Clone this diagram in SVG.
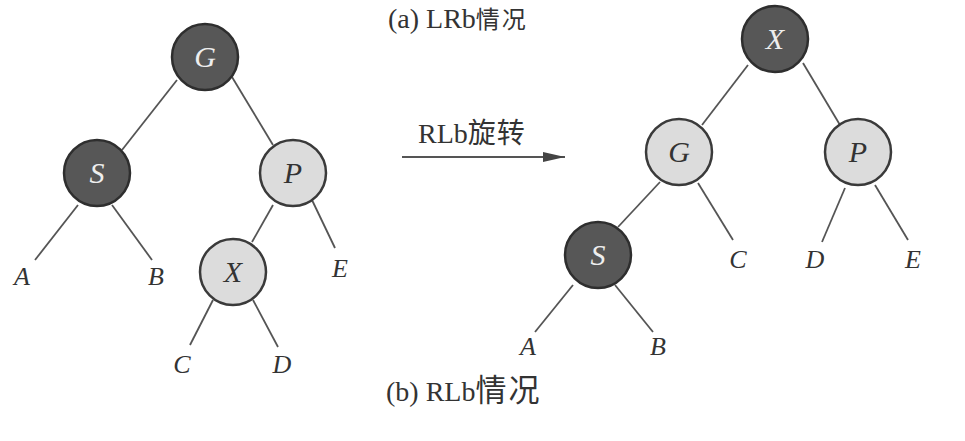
<svg xmlns="http://www.w3.org/2000/svg" width="965" height="441" viewBox="0 0 965 441">
<style>
.dark{fill:#575757;stroke:#2e2e2e;stroke-width:2.5}
.light{fill:#dcdcdc;stroke:#3a3a3a;stroke-width:2.5}
.nl{font-family:"Liberation Serif",serif;font-style:italic;font-size:30px;text-anchor:middle}
.nd{fill:#eeeeee}
.nli{fill:#333}
.leaf{font-family:"Liberation Serif",serif;font-style:italic;font-size:26px;text-anchor:middle;fill:#333}
.cap{font-family:"Liberation Serif","Noto Sans CJK SC",serif;font-size:28px;fill:#333}
.cjk{font-family:"Noto Sans CJK SC",sans-serif}
#edges line{stroke:#555;stroke-width:1.8}
</style>
<defs>
<marker id="ah" markerWidth="22" markerHeight="10" refX="22" refY="5" orient="auto" markerUnits="userSpaceOnUse">
<path d="M0,0 L22,5 L0,10 Z" fill="#444"/>
</marker>
</defs>
<rect width="965" height="441" fill="#ffffff"/>
<text class="cap" x="388" y="28" font-size="24">(a) LRb<tspan class="cjk" font-size="24" letter-spacing="2">情况</tspan></text>
<g id="edges">
<line x1="177" y1="80" x2="122" y2="150"/>
<line x1="232" y1="77" x2="273" y2="145"/>
<line x1="78" y1="205" x2="35" y2="260"/>
<line x1="112" y1="205" x2="152" y2="260"/>
<line x1="273" y1="205" x2="252" y2="242"/>
<line x1="312" y1="200" x2="335" y2="248"/>
<line x1="213" y1="300" x2="190" y2="345"/>
<line x1="253" y1="300" x2="278" y2="347"/>
<line x1="748" y1="65" x2="702" y2="125"/>
<line x1="803" y1="63" x2="840" y2="125"/>
<line x1="660" y1="182" x2="618" y2="227"/>
<line x1="698" y1="183" x2="733" y2="240"/>
<line x1="845" y1="188" x2="822" y2="242"/>
<line x1="875" y1="185" x2="908" y2="240"/>
<line x1="573" y1="285" x2="535" y2="332"/>
<line x1="615" y1="285" x2="653" y2="332"/>
<line x1="402" y1="157" x2="565" y2="157" stroke-width="2" marker-end="url(#ah)"/>
</g>
<g id="L-G"><circle class="dark" cx="205" cy="57" r="33"/><text class="nl nd" x="205" y="67">G</text></g>
<g id="L-S"><circle class="dark" cx="97" cy="173" r="33"/><text class="nl nd" x="97" y="183">S</text></g>
<g id="L-P"><circle class="light" cx="293" cy="173" r="33"/><text class="nl nli" x="293" y="183">P</text></g>
<g id="L-X"><circle class="light" cx="233" cy="272" r="33"/><text class="nl nli" x="233" y="282">X</text></g>
<g id="L-leaves">
<text class="leaf" x="22" y="285">A</text>
<text class="leaf" x="156" y="285">B</text>
<text class="leaf" x="340" y="277">E</text>
<text class="leaf" x="182" y="373">C</text>
<text class="leaf" x="282" y="373">D</text>
</g>
<g id="arrow-label"><text class="cap" x="418" y="143" font-size="31">RLb<tspan class="cjk" font-size="28" letter-spacing="1">旋转</tspan></text></g>
<g id="R-X"><circle class="dark" cx="775" cy="39" r="33"/><text class="nl nd" x="775" y="49">X</text></g>
<g id="R-G"><circle class="light" cx="679" cy="152" r="33"/><text class="nl nli" x="679" y="162">G</text></g>
<g id="R-P"><circle class="light" cx="858" cy="152" r="33"/><text class="nl nli" x="858" y="162">P</text></g>
<g id="R-S"><circle class="dark" cx="598" cy="255" r="33"/><text class="nl nd" x="598" y="265">S</text></g>
<g id="R-leaves">
<text class="leaf" x="738" y="268">C</text>
<text class="leaf" x="815" y="268">D</text>
<text class="leaf" x="913" y="268">E</text>
<text class="leaf" x="528" y="355">A</text>
<text class="leaf" x="658" y="355">B</text>
</g>
<text class="cap" x="386" y="401">(b) RLb<tspan class="cjk" font-size="31" letter-spacing="2">情况</tspan></text>
</svg>
